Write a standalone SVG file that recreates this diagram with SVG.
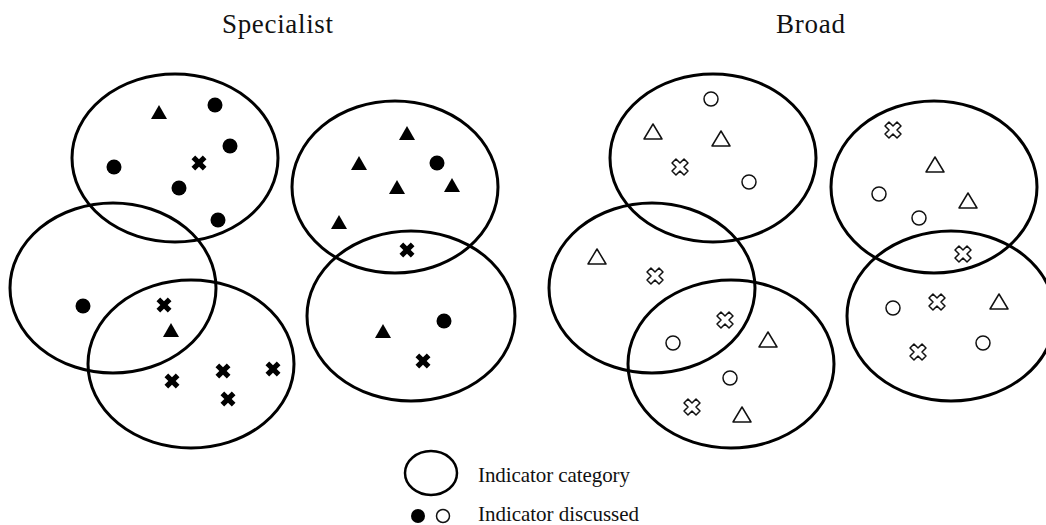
<svg xmlns="http://www.w3.org/2000/svg" xmlns:xlink="http://www.w3.org/1999/xlink" width="1046" height="525" viewBox="0 0 1046 525">
  <style>
    .cat { fill: none; stroke: #000; stroke-width: 3; }
    .title { font-family: "Liberation Serif", "Times New Roman", serif; font-size: 27px; fill: #111; }
    .legend { font-family: "Liberation Serif", "Times New Roman", serif; font-size: 21px; fill: #111; }
    .solid { fill: #000; }
    .hollow { fill: #fff; stroke: #111; stroke-width: 1.5; stroke-linejoin: round; }
  </style>
  <defs>
    <!-- solid indicator marks -->
    <circle id="dot" r="7.5" class="solid"/>
    <path id="tri" d="M0,-7 L8,7 L-8,7 Z" class="solid"/>
    <path id="cross" class="solid" transform="rotate(45)" d="M-2.6,-8 H2.6 V-2.6 H8 V2.6 H2.6 V8 H-2.6 V2.6 H-8 V-2.6 H-2.6 Z"/>
    <!-- hollow indicator marks -->
    <circle id="ring" r="7" class="hollow"/>
    <path id="otri" d="M0,-8 L9,7 L-9,7 Z" class="hollow"/>
    <path id="ocross" class="hollow" transform="rotate(45)" d="M-2.8,-8.5 H2.8 V-2.8 H8.5 V2.8 H2.8 V8.5 H-2.8 V2.8 H-8.5 V-2.8 H-2.8 Z"/>
  </defs>

  <rect width="1046" height="525" fill="#fff"/>

  <text class="title" x="222" y="33" textLength="111">Specialist</text>
  <text class="title" x="776" y="33" textLength="69">Broad</text>

  <!-- Specialist categories -->
  <g id="spec-cat-1"><ellipse class="cat" cx="175" cy="158" rx="103" ry="84"/></g>
  <g id="spec-cat-2"><ellipse class="cat" cx="113" cy="288" rx="103" ry="85"/></g>
  <g id="spec-cat-3"><ellipse class="cat" cx="191" cy="364" rx="103" ry="84"/></g>
  <g id="spec-cat-4"><ellipse class="cat" cx="395" cy="187" rx="103" ry="86"/></g>
  <g id="spec-cat-5"><ellipse class="cat" cx="411" cy="316" rx="104" ry="85"/></g>

  <!-- Specialist indicators -->
  <g id="spec-marks">
    <use href="#tri" x="159" y="112"/>
    <use href="#dot" x="215" y="105"/>
    <use href="#dot" x="230" y="146"/>
    <use href="#cross" x="199" y="163"/>
    <use href="#dot" x="114" y="167"/>
    <use href="#dot" x="179" y="188"/>
    <use href="#dot" x="218" y="220"/>

    <use href="#dot" x="83" y="306"/>
    <use href="#cross" x="164" y="305"/>
    <use href="#tri" x="171" y="330"/>
    <use href="#cross" x="172" y="381"/>
    <use href="#cross" x="223" y="371"/>
    <use href="#cross" x="273" y="369"/>
    <use href="#cross" x="228" y="399"/>

    <use href="#tri" x="407" y="133"/>
    <use href="#tri" x="359" y="163"/>
    <use href="#dot" x="437" y="163"/>
    <use href="#tri" x="397" y="187"/>
    <use href="#tri" x="452" y="185"/>
    <use href="#tri" x="339" y="222"/>
    <use href="#cross" x="407" y="250"/>

    <use href="#tri" x="383" y="331"/>
    <use href="#dot" x="444" y="321"/>
    <use href="#cross" x="423" y="361"/>
  </g>

  <!-- Broad categories -->
  <g id="broad-cat-1"><ellipse class="cat" cx="713" cy="158" rx="103" ry="84"/></g>
  <g id="broad-cat-2"><ellipse class="cat" cx="652" cy="288" rx="103" ry="85"/></g>
  <g id="broad-cat-3"><ellipse class="cat" cx="731" cy="364" rx="103" ry="84"/></g>
  <g id="broad-cat-4"><ellipse class="cat" cx="934" cy="187" rx="103" ry="86"/></g>
  <g id="broad-cat-5"><ellipse class="cat" cx="951" cy="316" rx="104" ry="85"/></g>

  <!-- Broad indicators -->
  <g id="broad-marks">
    <use href="#ring" x="711" y="99"/>
    <use href="#otri" x="653" y="132"/>
    <use href="#otri" x="721" y="139"/>
    <use href="#ocross" x="680" y="167"/>
    <use href="#ring" x="749" y="182"/>

    <use href="#otri" x="597" y="257"/>
    <use href="#ocross" x="655" y="276"/>
    <use href="#ocross" x="725" y="320"/>
    <use href="#ring" x="673" y="343"/>
    <use href="#otri" x="768" y="340"/>
    <use href="#ring" x="730" y="378"/>
    <use href="#ocross" x="692" y="407"/>
    <use href="#otri" x="742" y="415"/>

    <use href="#ocross" x="893" y="130"/>
    <use href="#otri" x="935" y="165"/>
    <use href="#ring" x="879" y="194"/>
    <use href="#otri" x="968" y="201"/>
    <use href="#ring" x="919" y="218"/>
    <use href="#ocross" x="963" y="254"/>

    <use href="#ring" x="893" y="308"/>
    <use href="#ocross" x="937" y="302"/>
    <use href="#otri" x="999" y="302"/>
    <use href="#ocross" x="918" y="352"/>
    <use href="#ring" x="983" y="343"/>
  </g>

  <!-- Legend -->
  <g id="legend">
    <ellipse cx="431" cy="473" rx="26" ry="22" fill="none" stroke="#000" stroke-width="2.5"/>
    <text class="legend" x="478" y="482" textLength="152">Indicator category</text>
    <circle cx="418" cy="516" r="7" fill="#000"/>
    <circle cx="443" cy="516" r="6.5" fill="#fff" stroke="#111" stroke-width="1.5"/>
    <text class="legend" x="478" y="521" textLength="161">Indicator discussed</text>
  </g>
</svg>
